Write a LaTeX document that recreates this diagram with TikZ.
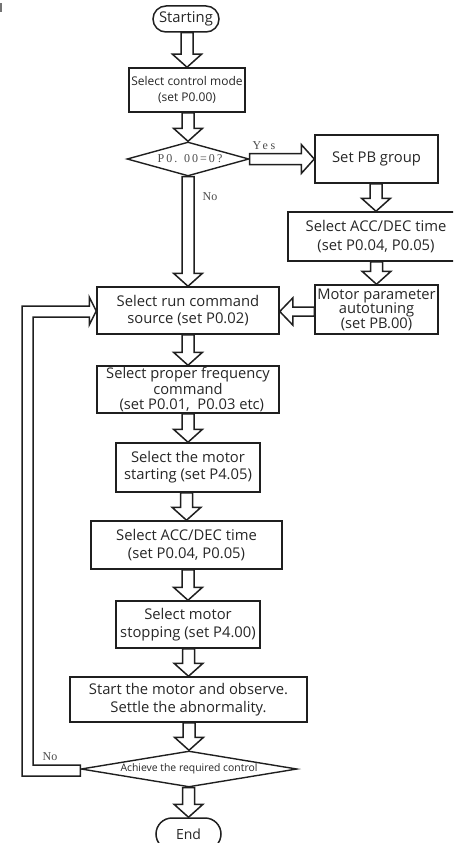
\documentclass[tikz,border=0pt]{standalone}
\usepackage{fontspec}
\setmainfont{Open Sans}
\newfontfamily\serifd{Liberation Serif}
\usetikzlibrary{shapes.geometric,calc}
\begin{document}
\begin{tikzpicture}[x=1pt,y=-1pt,
  box/.style={draw=black!88, line width=1.5pt, rectangle, inner sep=0pt, align=center,
    text=black!85, font=\fontsize{14.8}{17.5}\selectfont},
  three/.style={font=\fontsize{14.7}{14.5}\selectfont},
  term/.style={box, rounded corners=13pt},
  dia/.style={draw=black!88, diamond, line width=1.4pt, inner sep=0pt},
  lbl/.style={inner sep=0pt, text=black!70, font=\serifd\fontsize{12}{14}\selectfont},
  blk/.style={draw=black!88, line width=1.5pt, fill=white, line join=miter}]
\clip (0,0) rectangle (453,843);
\fill[black!55] (0,3) rectangle (2,12);
% nodes
\node[term, minimum width=66pt, minimum height=26pt] (start) at (186,19) {Starting};
\node[box, minimum width=116pt, minimum height=44pt, font=\fontsize{12}{16.5}\selectfont] (mode) at (187,90) {Select control mode\\(set P0.00)};
\node[dia, minimum width=122pt, minimum height=34pt] (d1) at (188,159) {};
\node[lbl] (d1t) at (190,159) {\addfontfeature{LetterSpace=17}P0. 00=0?};
\node[box, minimum width=123pt, minimum height=48pt] (pb) at (376.5,159) {Set PB group};
\node[box, minimum width=176pt, minimum height=49pt, font=\fontsize{14.8}{18.5}\selectfont] (acc1) at (376,236.5) {Select ACC/DEC time\\(set P0.04, P0.05)};
\node[box, three, minimum width=123pt, minimum height=49pt] (motor) at (376.5,309.5) {Motor parameter\\autotuning\\(set PB.00)};
\node[box, minimum width=182pt, minimum height=47pt] (run) at (188,310.5) {Select run command\\source (set P0.02)};
\node[box, three, minimum width=182pt, minimum height=47pt] (freq) at (188,389.5) {Select proper frequency\\command\\~~(set P0.01,~~P0.03 etc)};
\node[box, minimum width=144pt, minimum height=49pt, font=\fontsize{14.8}{17}\selectfont] (mstart) at (188,467.5) {Select the motor\\starting (set P4.05)};
\node[box, minimum width=191pt, minimum height=48pt] (acc2) at (186.5,545) {Select ACC/DEC time\\(set P0.04, P0.05)};
\node[box, minimum width=144pt, minimum height=47pt] (stop) at (188,624.5) {Select motor\\stopping (set P4.00)};
\node[box, minimum width=237pt, minimum height=45pt, font=\fontsize{14.8}{18}\selectfont] (obs) at (188.5,699.5) {Start the motor and observe.\\Settle the abnormality.};
\node[dia, minimum width=216pt, minimum height=36pt] (d2) at (189,769) {};
\node[inner sep=0pt, text=black!85, font=\fontsize{10.4}{12}\selectfont] (d2t) at (189,769) {Achieve the required control};
\node[box, rounded corners=16pt, minimum width=65pt, minimum height=32pt, font=\fontsize{14}{16}\selectfont] (end) at (188.5,834) {End};
% labels
\node[lbl] (yes) at (264,146) {\addfontfeature{LetterSpace=22}Yes};
\node[lbl] (no1) at (210,197) {No};
\node[lbl] (no2) at (50,757) {No};
% arrow macros
\newcommand\varr[2]{%
  \draw[blk] let \p1=(#1.south), \p2=(#2.north) in
    (\x2-6pt,\y1) -- (\x2-6pt,\y2+13pt) -- (\x2-14.5pt,\y2+13pt) -- (\x2,\y2)
    -- (\x2+14.5pt,\y2+13pt) -- (\x2+6pt,\y2+13pt) -- (\x2+6pt,\y1) -- cycle;}
\varr{start}{mode}
\varr{mode}{d1}
\varr{d1}{run}
\varr{pb}{acc1}
\varr{acc1}{motor}
\varr{run}{freq}
\varr{freq}{mstart}
\varr{mstart}{acc2}
\varr{acc2}{stop}
\varr{stop}{obs}
\varr{obs}{d2}
\varr{d2}{end}
% yes arrow
\draw[blk] let \p1=(d1.east), \p2=(pb.west) in
  (\x1,\y2+5.5pt) -- (\x2-13pt,\y2+5.5pt) -- (\x2-13pt,\y2+14.5pt) -- (\x2,\y2)
  -- (\x2-13pt,\y2-14.5pt) -- (\x2-13pt,\y2-5.5pt) -- (\x1,\y2-5.5pt) -- cycle;
% motor -> run
\draw[blk] let \p1=(motor.west), \p2=(run.east) in
  (\x1,\y2+3.5pt) -- (\x2+13pt,\y2+3.5pt) -- (\x2+13pt,\y2+12.5pt) -- (\x2,\y2-1pt)
  -- (\x2+13pt,\y2-14.5pt) -- (\x2+13pt,\y2-5.5pt) -- (\x1,\y2-5.5pt) -- cycle;
% loop back
\draw[blk] let \p1=(d2.west), \p2=(run.west) in
  (\x1,\y1+4pt) -- (33pt,\y1+4pt) -- (33pt,\y2-6.5pt) -- (\x2-7pt,\y2-6.5pt)
  -- (\x2-7pt,\y2-14.5pt) -- (\x2,\y2-0.5pt) -- (\x2-7pt,\y2+13.5pt) -- (\x2-7pt,\y2+4.5pt)
  -- (22pt,\y2+4.5pt) -- (22pt,\y1-7pt) -- (\x1,\y1-7pt) -- cycle;
\end{tikzpicture}
\end{document}
